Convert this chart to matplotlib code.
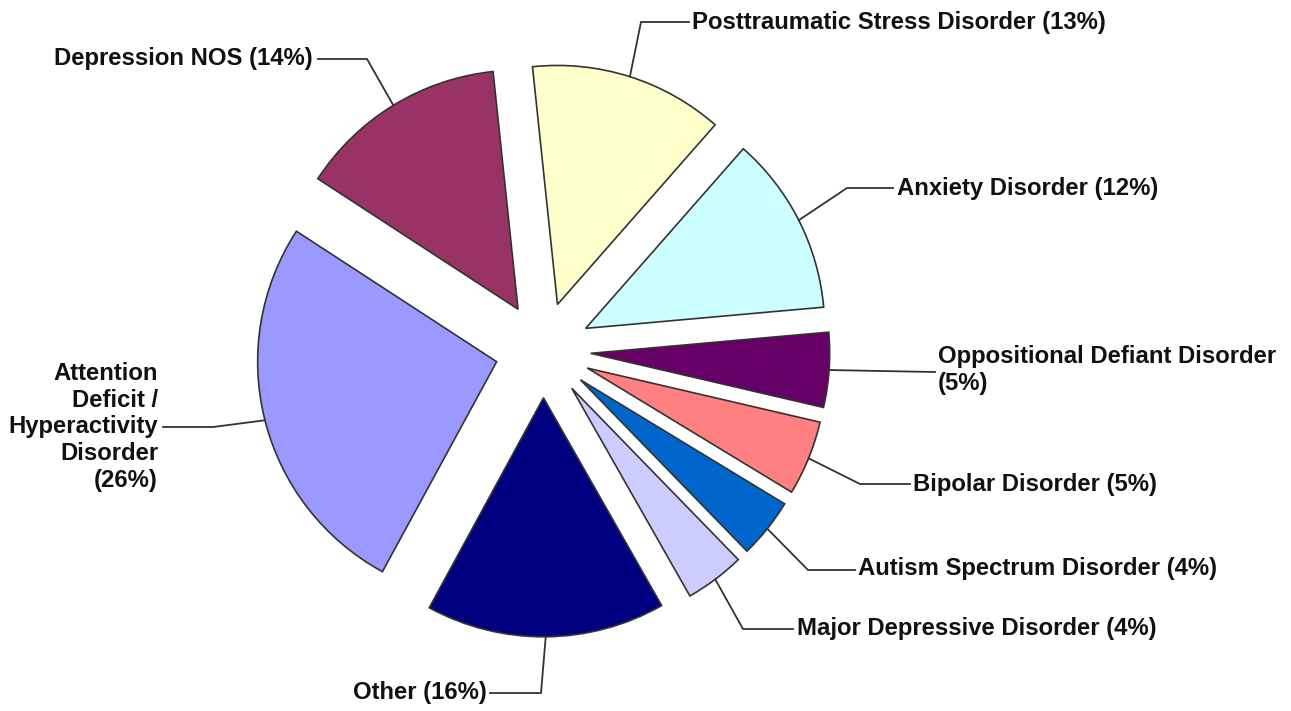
import matplotlib
matplotlib.use('Agg')
import matplotlib.pyplot as plt
import numpy as np

# data
labels = ['Posttraumatic Stress Disorder (13%)', 'Anxiety Disorder (12%)',
          'Oppositional Defiant Disorder\n(5%)', 'Bipolar Disorder (5%)',
          'Autism Spectrum Disorder (4%)', 'Major Depressive Disorder (4%)',
          'Other (16%)', 'Attention\nDeficit /\nHyperactivity\nDisorder\n(26%)',
          'Depression NOS (14%)']
values = [13, 12, 5, 5, 4, 4, 16, 26, 14]
colors = ['#FFFFCC', '#CCFFFF', '#660066', '#FF8080', '#0066CC',
          '#CCCCFF', '#000080', '#9999FF', '#993366']

W, H = 1291, 711
R = 239  # pie radius in pixels
plt.rcParams['font.family'] = ['Liberation Sans', 'DejaVu Sans']

fig = plt.figure(figsize=(W / 100, H / 100), dpi=100)
ax = fig.add_axes([0, 0, 1, 1])

# explode is applied in data units, so scale by the radius
wedges, _ = ax.pie(values, colors=colors, startangle=96, counterclock=False,
                   explode=[0.2 * R] * len(values), center=(543, H - 350), radius=R,
                   wedgeprops=dict(edgecolor='#333333', linewidth=1.2),
                   frame=True)
ax.set_xlim(0, W)
ax.set_ylim(0, H)
ax.set_aspect('equal')
ax.axis('off')

# label layout (image pixel coords): elbow, line end, text x, text y, ha
layout = [
    ((641, 22), (689, 22), 692, 22, 'left'),
    ((847, 188), (893, 188), 897, 188, 'left'),
    ((880, 371), (935, 372), 938, 370, 'left'),
    ((860, 484), (910, 484), 913, 484, 'left'),
    ((808, 570), (855, 570), 858, 569, 'left'),
    ((743, 629), (793, 629), 797, 629, 'left'),
    ((541, 693), (490, 693), 487, 693, 'right'),
    ((213, 427), (163, 427), 158, 427, 'right'),
    ((367, 59), (318, 59), 313, 59, 'right'),
]

for w, lab, (elb, end, tx, ty, ha) in zip(wedges, labels, layout):
    mid = np.deg2rad((w.theta1 + w.theta2) / 2)
    sx = w.center[0] + w.r * np.cos(mid)
    sy = w.center[1] + w.r * np.sin(mid)
    ax.plot([sx, elb[0], end[0]], [sy, H - elb[1], H - end[1]],
            color='#333333', lw=1.3, solid_joinstyle='miter')
    ax.text(tx, H - ty, lab, ha=ha, va='center', multialignment=ha,
            fontsize=17.2, fontweight='bold', color='#111111')

fig.savefig('out.png', dpi=100)
